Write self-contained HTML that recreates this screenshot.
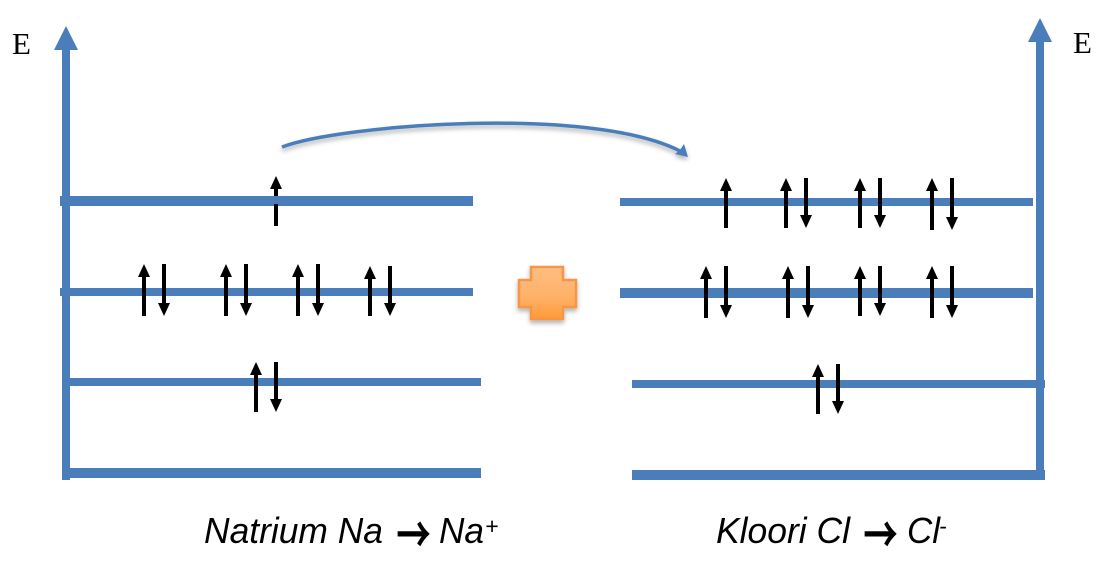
<!DOCTYPE html>
<html lang="et">
<head>
<meta charset="utf-8">
<title>Natrium ja kloori energiatasemed</title>
<style>
html,body{margin:0;padding:0;background:#fff;width:1116px;height:568px;overflow:hidden}
svg{display:block}
.e{font-family:"Liberation Serif",serif;font-size:31px;fill:#000}
.t{font-family:"Liberation Sans",sans-serif;font-size:36px;font-style:italic;fill:#000}
.s{font-family:"Liberation Sans",sans-serif;font-size:23px;font-style:italic;fill:#000}
.a{font-family:"Noto Sans CJK JP",sans-serif;font-size:34px;fill:#000;stroke:#000;stroke-width:1.4}
.k line{stroke:#000;stroke-width:4}
.u line{marker-end:url(#h)}
</style>
</head>
<body>
<svg width="1116" height="568" viewBox="0 0 1116 568" xmlns="http://www.w3.org/2000/svg">
<defs>
<marker id="h" markerUnits="userSpaceOnUse" markerWidth="13" markerHeight="12" refX="0" refY="6" orient="auto" overflow="visible"><path d="M0 0L13 6L0 12Z" fill="#000"/></marker>
<linearGradient id="g" x1="0" y1="0" x2="0" y2="1"><stop offset="0" stop-color="#ffbe82"/><stop offset=".6" stop-color="#ffb066"/><stop offset="1" stop-color="#ff9a38"/></linearGradient>
<filter id="sh" x="-20%" y="-50%" width="140%" height="220%"><feDropShadow dx="0" dy="3" stdDeviation="2.5" flood-color="#000" flood-opacity=".3"/></filter>
</defs>
<rect width="1116" height="568" fill="#fff"/>

<g fill="#4a7ebb">
<rect x="62" y="48" width="8" height="432"/>
<path d="M66 26L78 50H54Z"/>
<rect x="60" y="196" width="413" height="10"/>
<rect x="60" y="288" width="413" height="8"/>
<rect x="66" y="378" width="415" height="8"/>
<rect x="66" y="468" width="415" height="10"/>
<rect x="1036" y="40" width="8" height="432"/>
<path d="M1040 18L1052 42H1028Z"/>
<rect x="620" y="198" width="413" height="8"/>
<rect x="620" y="288" width="413" height="10"/>
<rect x="632" y="380" width="413" height="8"/>
<rect x="632" y="470" width="413" height="10"/>
</g>

<g filter="url(#sh)">
<path d="M282 147C340 125 590 105 680 151" fill="none" stroke="#4a7ebb" stroke-width="3.5"/>
<path d="M688 157L675 154L680 150L684 144Z" fill="#4a7ebb"/>
</g>

<path d="M531 267H563V280H576V307H563V319H531V307H519V280H531Z" fill="url(#g)" stroke="#f79646" stroke-width="2.5" filter="url(#sh)"/>

<g class="k u">
<line x1="276" y1="226" x2="276" y2="189"/>
<line x1="144" y1="316" x2="144" y2="277"/>
<line x1="226" y1="316" x2="226" y2="277"/>
<line x1="298" y1="316" x2="298" y2="277"/>
<line x1="370" y1="316" x2="370" y2="279"/>
<line x1="256" y1="412" x2="256" y2="375"/>
<line x1="726" y1="228" x2="726" y2="191"/>
<line x1="786" y1="228" x2="786" y2="191"/>
<line x1="860" y1="228" x2="860" y2="191"/>
<line x1="932" y1="230" x2="932" y2="191"/>
<line x1="706" y1="318" x2="706" y2="279"/>
<line x1="788" y1="318" x2="788" y2="279"/>
<line x1="860" y1="316" x2="860" y2="279"/>
<line x1="932" y1="318" x2="932" y2="279"/>
<line x1="818" y1="414" x2="818" y2="377"/>
<line x1="164" y1="264" x2="164" y2="303"/>
<line x1="246" y1="264" x2="246" y2="303"/>
<line x1="318" y1="264" x2="318" y2="303"/>
<line x1="390" y1="266" x2="390" y2="303"/>
<line x1="276" y1="362" x2="276" y2="399"/>
<line x1="806" y1="178" x2="806" y2="215"/>
<line x1="880" y1="178" x2="880" y2="215"/>
<line x1="952" y1="178" x2="952" y2="217"/>
<line x1="726" y1="266" x2="726" y2="305"/>
<line x1="808" y1="266" x2="808" y2="305"/>
<line x1="880" y1="266" x2="880" y2="303"/>
<line x1="952" y1="266" x2="952" y2="305"/>
<line x1="838" y1="364" x2="838" y2="401"/>
</g>
<rect x="274" y="196" width="4" height="8" fill="#4a7ebb"/>

<text class="e" x="12" y="54">E</text>
<text class="e" x="1073" y="53">E</text>

<text class="t" x="204" y="543" textLength="179" lengthAdjust="spacingAndGlyphs">Natrium Na</text>
<text class="a" transform="translate(397 552) scale(.96 1.4)">→</text>
<text class="t" x="439" y="543" textLength="45" lengthAdjust="spacingAndGlyphs">Na</text>
<text class="s" x="485" y="534">+</text>
<text class="t" x="716" y="543" textLength="134" lengthAdjust="spacingAndGlyphs">Kloori Cl</text>
<text class="a" transform="translate(864 552) scale(.96 1.4)">→</text>
<text class="t" x="907" y="543" textLength="33" lengthAdjust="spacingAndGlyphs">Cl</text>
<text class="s" x="939" y="534">-</text>
</svg>
</body>
</html>
